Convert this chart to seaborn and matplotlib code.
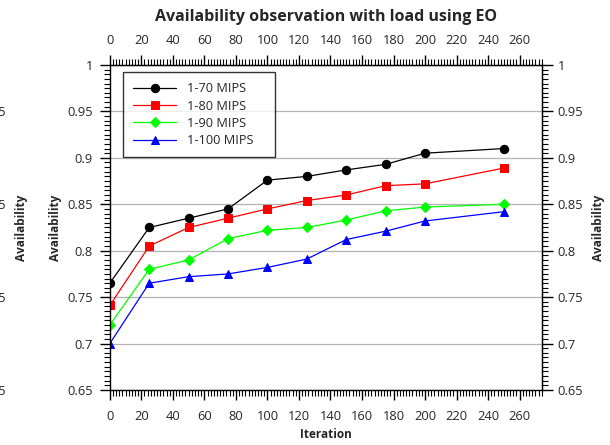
import numpy as np
import pandas as pd
import matplotlib
matplotlib.use("Agg")
import matplotlib.pyplot as plt
import seaborn as sns
from matplotlib.ticker import MultipleLocator

# data
iterations = [0, 25, 50, 75, 100, 125, 150, 175, 200, 250]
mips_70 = [0.765, 0.825, 0.835, 0.845, 0.876, 0.880, 0.887, 0.893, 0.905, 0.910]
mips_80 = [0.741, 0.805, 0.825, 0.835, 0.845, 0.854, 0.860, 0.870, 0.872, 0.889]
mips_90 = [0.720, 0.780, 0.790, 0.813, 0.822, 0.825, 0.833, 0.843, 0.847, 0.850]
mips_100 = [0.700, 0.765, 0.772, 0.775, 0.782, 0.791, 0.812, 0.821, 0.832, 0.842]
series_names = ["1-70 MIPS", "1-80 MIPS", "1-90 MIPS", "1-100 MIPS"]

sns.set_style("white")
plt.rcParams["font.family"] = ["Open Sans", "DejaVu Sans"]
plt.rcParams["font.size"] = 9.3

fig = plt.figure(figsize=(6.1, 4.45), dpi=100)
ax = fig.add_axes([0.180, 0.1236, 0.708, 0.7304])

colors = ["black", "red", "#00ff00", "blue"]
markers = ["o", "s", "D", "^"]
msizes = [6, 5.8, 4.6, 6.2]
for name, vals, c, m, ms in zip(series_names, [mips_70, mips_80, mips_90, mips_100],
                                colors, markers, msizes):
    sns.lineplot(x=iterations, y=vals, ax=ax, color=c, marker=m, markersize=ms,
                 markeredgecolor=c, linewidth=0.9, label=name)

ax.set_xlim(0, 274)
ax.set_ylim(0.65, 1.0)
ax.xaxis.set_major_locator(MultipleLocator(20))
ax.xaxis.set_minor_locator(MultipleLocator(2))
ax.yaxis.set_major_locator(MultipleLocator(0.05))
ax.yaxis.set_minor_locator(MultipleLocator(0.005))
fmt = plt.FuncFormatter(lambda v, p: f"{v:g}")
ax.yaxis.set_major_formatter(fmt)
ax.grid(axis="y", color="#b4b4b4", linewidth=0.9)
ax.set_axisbelow(True)

for s in ax.spines.values():
    s.set_color("black")
    s.set_linewidth(1)

ax.tick_params(which="major", direction="out", length=7.2, width=1, color="black",
               bottom=True, left=True, top=False, right=False)
ax.tick_params(which="minor", direction="out", length=4, width=0.8, color="black",
               bottom=True, left=True, top=False, right=False)
ax.tick_params(axis="x", which="major", pad=7.5)
ax.tick_params(axis="y", which="major", pad=5)

# top axis
ax_t = ax.secondary_xaxis("top")
ax_t.xaxis.set_major_locator(MultipleLocator(20))
ax_t.xaxis.set_minor_locator(MultipleLocator(2))
ax_t.tick_params(which="major", direction="out", length=7.2, width=1, color="black",
                 top=True, pad=5.5)
ax_t.tick_params(which="minor", direction="out", length=4, width=0.8, color="black",
                 top=True)

ax.set_title("Availability observation with load using EO", fontsize=11.5,
             fontweight="bold", y=1.148, va="center", pad=0)
ax.set_xlabel("Iteration", fontsize=8.5, fontweight="bold", labelpad=3)
ax.set_ylabel("Availability", fontsize=8.5, fontweight="bold", labelpad=4)

# right axis
ax_r = ax.twinx()
ax_r.set_ylim(0.65, 1.0)
ax_r.yaxis.set_major_locator(MultipleLocator(0.05))
ax_r.yaxis.set_minor_locator(MultipleLocator(0.005))
ax_r.yaxis.set_major_formatter(fmt)
ax_r.tick_params(which="major", direction="out", length=7.6, width=1, color="black",
                 right=True, pad=4)
ax_r.tick_params(which="minor", direction="out", length=4, width=0.8, color="black",
                 right=True)
ax_r.set_ylabel("Availability", fontsize=8.5, fontweight="bold", labelpad=6)
for s in ax_r.spines.values():
    s.set_visible(False)
ax_r.spines["right"].set_visible(True)
ax_r.spines["right"].set_color("black")

# shifted copy of the right axis that shows at the left edge
ax_g = ax.twinx()
ax_g.set_ylim(0.65, 1.0)
ax_g.spines["right"].set_position(("axes", -0.336))
for s in ax_g.spines.values():
    s.set_visible(False)
ax_g.yaxis.set_major_locator(MultipleLocator(0.05))
ax_g.yaxis.set_major_formatter(fmt)
ax_g.tick_params(which="major", direction="out", length=7.6, color="black", pad=4)
ax_g.set_ylabel("Availability", fontsize=8.5, fontweight="bold", labelpad=6)

leg = ax.legend(loc="upper left", bbox_to_anchor=(0.030, 0.978, 0.352, 0),
                mode="expand", borderaxespad=0, frameon=True, fancybox=False,
                edgecolor="black", fontsize=9.2, handlelength=3.4,
                handletextpad=0.85, borderpad=0.8, labelspacing=0.33)
leg.get_frame().set_linewidth(1)

fig.savefig("out.png", dpi=100)
